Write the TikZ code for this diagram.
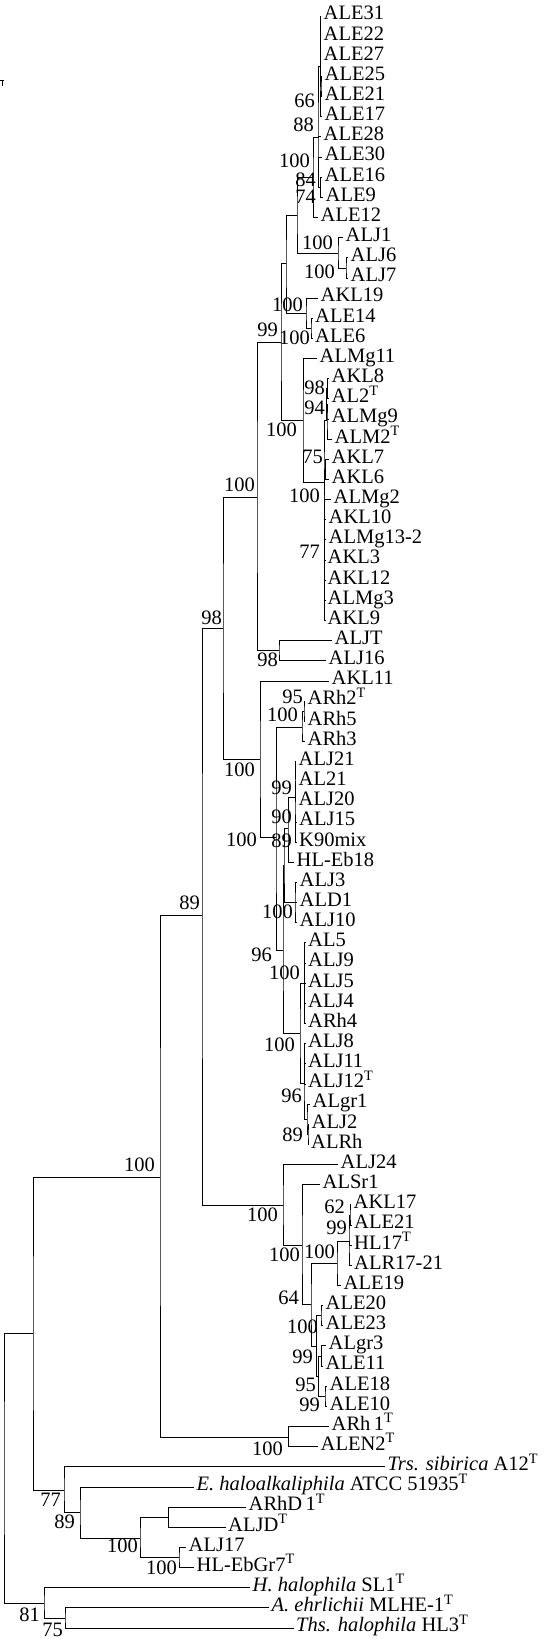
\documentclass[tikz,border=0pt]{standalone}
\usepackage{fontspec}
\setmainfont{Liberation Serif}
\usepackage{tikz}
\usetikzlibrary{positioning}
\tikzset{
  leaf/.style={anchor=west, inner xsep=2.5pt, inner ysep=0pt, text height=14pt, text depth=6.4pt, font=\fontsize{20.5}{24}\selectfont},
  boot/.style={anchor=east, inner sep=0pt, font=\fontsize{20.5}{24}\selectfont},
  branch/.style={line width=0.9pt}
}

\begin{document}
\begin{tikzpicture}[x=1pt, y=-1pt]
\useasboundingbox (0,0) rectangle (547,1639);

% remnant of the scale bar
\draw[branch] (0,80.5) -- (3.5,80.5);
\draw[branch] (2.5,80.5) -- (2.5,85.5);

% leaves: ALE group
\node[leaf] (ale31) at (321,16) {ALE31};
\node[leaf] (ale22) at (321,36.2) {ALE22};
\node[leaf] (ale27) at (321,56.3) {ALE27};
\node[leaf] (ale25) at (322,76.5) {ALE25};
\node[leaf] (ale21a) at (322,96.6) {ALE21};
\node[leaf] (ale17) at (322,116.8) {ALE17};
\node[leaf] (ale28) at (321,136.9) {ALE28};
\node[leaf] (ale30) at (322,157.1) {ALE30};
\node[leaf] (ale16) at (322,177.2) {ALE16};
\node[leaf] (ale9) at (323,197.4) {ALE9};
\node[leaf] (ale12) at (318,217.5) {ALE12};
\node[leaf] (alj1) at (343,237.7) {ALJ1};
\node[leaf] (alj6) at (348,257.8) {ALJ6};
\node[leaf] (alj7) at (348,278) {ALJ7};
\node[leaf] (akl19) at (318,298.1) {AKL19};
\node[leaf] (ale14) at (312.5,318.3) {ALE14};
\node[leaf] (ale6) at (312.5,338.4) {ALE6};
% leaves: ALMg / AKL group
\node[leaf] (almg11) at (317,358.6) {ALMg11};
\node[leaf] (akl8) at (329,378.7) {AKL8};
\node[leaf] (al2) at (329,398.9) {AL2\textsuperscript{T}};
\node[leaf] (almg9) at (329,419) {ALMg9};
\node[leaf] (alm2) at (332,439.2) {ALM2\textsuperscript{T}};
\node[leaf] (akl7) at (329,459.3) {AKL7};
\node[leaf] (akl6) at (329,479.5) {AKL6};
\node[leaf] (almg2) at (331,499.6) {ALMg2};
\node[leaf] (akl10) at (326,519.8) {AKL10};
\node[leaf] (almg132) at (326,539.9) {ALMg13-2};
\node[leaf] (akl3) at (325,560.1) {AKL3};
\node[leaf] (akl12) at (325,580.2) {AKL12};
\node[leaf] (almg3) at (325,600.4) {ALMg3};
\node[leaf] (akl9) at (325,620.5) {AKL9};
\node[leaf] (aljt) at (332,640.7) {ALJT};
\node[leaf] (alj16) at (326,660.8) {ALJ16};
% leaves: ARh / ALJ group
\node[leaf] (akl11) at (329,681) {AKL11};
\node[leaf] (arh2) at (305,701.1) {ARh2\textsuperscript{T}};
\node[leaf] (arh5) at (305,721.3) {ARh5};
\node[leaf] (arh3) at (305,741.4) {ARh3};
\node[leaf] (alj21) at (296,761.6) {ALJ21};
\node[leaf] (al21) at (296,781.7) {AL21};
\node[leaf] (alj20) at (296,801.9) {ALJ20};
\node[leaf] (alj15) at (296.5,822) {ALJ15};
\node[leaf] (k90mix) at (296.5,842.2) {K90mix};
\node[leaf] (hleb18) at (294,862.3) {HL-Eb18};
\node[leaf] (alj3) at (297,882.5) {ALJ3};
\node[leaf] (ald1) at (297,902.6) {ALD1};
\node[leaf] (alj10) at (297,922.8) {ALJ10};
\node[leaf] (al5) at (305.5,942.9) {AL5};
\node[leaf] (alj9) at (305.5,963.1) {ALJ9};
\node[leaf] (alj5) at (305.5,983.2) {ALJ5};
\node[leaf] (alj4) at (305.5,1003.4) {ALJ4};
\node[leaf] (arh4) at (305.5,1023.5) {ARh4};
\node[leaf] (alj8) at (305.5,1043.7) {ALJ8};
\node[leaf] (alj11) at (305.5,1063.8) {ALJ11};
\node[leaf] (alj12) at (305.5,1084) {ALJ12\textsuperscript{T}};
\node[leaf] (algr1) at (310,1104.1) {ALgr1};
\node[leaf] (alj2) at (309,1124.3) {ALJ2};
\node[leaf] (alrh) at (308.5,1144.4) {ALRh};
% leaves: lower ALE group
\node[leaf] (alj24) at (338,1164.6) {ALJ24};
\node[leaf] (alsr1) at (320,1184.7) {ALSr1};
\node[leaf] (akl17) at (351,1204.9) {AKL17};
\node[leaf] (ale21b) at (351.5,1225) {ALE21};
\node[leaf] (hl17) at (351.5,1245.2) {HL17\textsuperscript{T}};
\node[leaf] (alr1721) at (351.5,1265.3) {ALR17-21};
\node[leaf] (ale19) at (341,1285.5) {ALE19};
\node[leaf] (ale20) at (323,1305.6) {ALE20};
\node[leaf] (ale23) at (323,1325.8) {ALE23};
\node[leaf] (algr3) at (326,1345.9) {ALgr3};
\node[leaf] (ale11) at (323,1366.1) {ALE11};
\node[leaf] (ale18) at (327,1386.2) {ALE18};
\node[leaf] (ale10) at (327,1406.4) {ALE10};
\node[leaf] (arh1) at (329,1426.5) {ARh\,1\textsuperscript{T}};
\node[leaf] (alen2) at (318,1446.7) {ALEN2\textsuperscript{T}};
% leaves: reference strains
\node[leaf] (trs) at (385,1466.8) {\textit{Trs. sibirica} A12\textsuperscript{T}};
\node[leaf] (ehalo) at (194,1487) {\textit{E. haloalkaliphila} ATCC 51935\textsuperscript{T}};
\node[leaf] (arhd1) at (246,1507.1) {ARhD\,1\textsuperscript{T}};
\node[leaf] (aljd) at (225.5,1527.3) {ALJD\textsuperscript{T}};
\node[leaf] (alj17) at (186,1547.4) {ALJ17};
\node[leaf] (hlebgr7) at (194,1567.6) {HL-EbGr7\textsuperscript{T}};
\node[leaf] (hhalo) at (250,1587.7) {\textit{H. halophila} SL1\textsuperscript{T}};
\node[leaf] (aehr) at (269,1607.9) {\textit{A. ehrlichii} MLHE-1\textsuperscript{T}};
\node[leaf] (thshalo) at (293.5,1628) {\textit{Ths. halophila} HL3\textsuperscript{T}};

% inner nodes
\coordinate (root) at (4,1468);
\coordinate (nA) at (33,1333);
\coordinate (nM) at (160,1177);
\coordinate (nArh) at (288.5,1437);
\coordinate (n8) at (202,915);
\coordinate (n7) at (223,628);
\coordinate (n6) at (257,497);
\coordinate (nAljt) at (279,650);
\coordinate (n3) at (281,342);
\coordinate (n2) at (286,263);
\coordinate (n1) at (297,215);
\coordinate (nAlec) at (313,177);
\coordinate (nAlea) at (318,137);
\coordinate (nAleb) at (320,66);
\coordinate (nAlee) at (321,86.5);
\coordinate (nAled) at (318.5,177);
\coordinate (nAlef) at (320.5,187.3);
\coordinate (nAljc) at (338,253);
\coordinate (nAlj67) at (346,268);
\coordinate (nAkc) at (306,313);
\coordinate (nAec) at (311,328.3);
\coordinate (n4) at (303,420);
\coordinate (n5) at (324,482);
\coordinate (nC1) at (327,420);
\coordinate (nC1b) at (326.5,404);
\coordinate (nC1a) at (327.5,388.8);
\coordinate (nCrest) at (324,520);
\coordinate (nC2) at (325.5,469.4);
\coordinate (nC77) at (324.5,570);
\coordinate (n12) at (260,759);
\coordinate (n13) at (276,837);
\coordinate (nArhc) at (302,727);
\coordinate (nArhi) at (304,711.2);
\coordinate (n14) at (283,950);
\coordinate (n14a) at (284,865);
\coordinate (nV) at (288,828);
\coordinate (nV1) at (295,797);
\coordinate (nV2) at (295.5,832);
\coordinate (nAlj3c) at (295,902.6);
\coordinate (nW) at (300,1033);
\coordinate (nW1) at (304,983.2);
\coordinate (nW2) at (304,1083);
\coordinate (nW3) at (307,1119);
\coordinate (nW4) at (308,1134.3);
\coordinate (n9) at (283,1205);
\coordinate (n10) at (302,1245);
\coordinate (n11) at (311,1304);
\coordinate (nQ) at (337,1263);
\coordinate (nP) at (349,1241);
\coordinate (nP1) at (350,1215);
\coordinate (nR) at (316.5,1346);
\coordinate (nRc) at (321,1315.7);
\coordinate (nS) at (318.5,1376);
\coordinate (nS1) at (321.5,1356);
\coordinate (nT) at (325,1396.3);
\coordinate (nB) at (64,1490);
\coordinate (nBc) at (80,1512);
\coordinate (nBd) at (140,1538);
\coordinate (nBe) at (168.5,1517.2);
\coordinate (nBf) at (179,1557.5);
\coordinate (nC) at (44,1603);
\coordinate (nCd) at (65,1618);

% root and outgroups
\draw[branch] (nA) -| (root) |- (nC);
\draw[branch] (hhalo.west) -| (nC) |- (nCd);
\draw[branch] (aehr.west) -| (nCd) |- (thshalo.west);
\draw[branch] (nM) -| (nA) |- (nB);
\draw[branch] (trs.west) -| (nB) |- (nBc);
\draw[branch] (ehalo.west) -| (nBc) |- (nBd);
\draw[branch] (nBe) -| (nBd) |- (nBf);
\draw[branch] (arhd1.west) -| (nBe) |- (aljd.west);
\draw[branch] (alj17.west) -| (nBf) |- (hlebgr7.west);
\draw[branch] (n8) -| (nM) |- (nArh);
\draw[branch] (arh1.west) -| (nArh) |- (alen2.west);

% upper part
\draw[branch] (n7) -| (n8) |- (n9);
\draw[branch] (n6) -| (n7) |- (n12);
\draw[branch] (n3) -| (n6) |- (nAljt);
\draw[branch] (aljt.west) -| (nAljt) |- (alj16.west);
\draw[branch] (n2) -| (n3) |- (n4);
\draw[branch] (n1) -| (n2) |- (nAkc);
\draw[branch] (nAlec) -| (n1) |- (nAljc);
\draw[branch] (nAlea) -| (nAlec) |- (ale12.west);
\draw[branch] (nAleb) -| (nAlea) |- (nAled);
\draw[branch] (nAlea) |- (ale28.west);
\draw[branch] (ale31.west) -| (nAleb) |- (ale17.west);
\draw[branch] (nAleb) |- (ale22.west) (nAleb) |- (ale27.west) (nAleb) |- (nAlee);
\draw[branch] (ale25.west) -| (nAlee) |- (ale21a.west);
\draw[branch] (ale30.west) -| (nAled) |- (nAlef);
\draw[branch] (ale16.west) -| (nAlef) |- (ale9.west);
\draw[branch] (alj1.west) -| (nAljc) |- (nAlj67);
\draw[branch] (alj6.west) -| (nAlj67) |- (alj7.west);
\draw[branch] (akl19.west) -| (nAkc) |- (nAec);
\draw[branch] (ale14.west) -| (nAec) |- (ale6.west);
\draw[branch] (almg11.west) -| (n4) |- (n5);
\draw[branch] (nC1) -| (n5) |- (nCrest);
\draw[branch] (nC1b) -| (nC1) |- (alm2.west);
\draw[branch] (nC1a) -| (nC1b) |- (almg9.west);
\draw[branch] (akl8.west) -| (nC1a) |- (al2.west);
\draw[branch] (nC2) -| (nCrest) |- (nC77);
\draw[branch] (nCrest) |- (almg2.west);
\draw[branch] (akl7.west) -| (nC2) |- (akl6.west);
\draw[branch] (akl10.west) -| (nC77) |- (akl9.west);
\draw[branch] (nC77) |- (almg132.west) (nC77) |- (akl3.west) (nC77) |- (akl12.west) (nC77) |- (almg3.west);

% middle part
\draw[branch] (akl11.west) -| (n12) |- (n13);
\draw[branch] (nArhc) -| (n13) |- (n14);
\draw[branch] (nArhi) -| (nArhc) |- (arh3.west);
\draw[branch] (arh2.west) -| (nArhi) |- (arh5.west);
\draw[branch] (n14a) -| (n14) |- (nW);
\draw[branch] (nV) -| (n14a) |- (nAlj3c);
\draw[branch] (nV1) -| (nV) |- (hleb18.west);
\draw[branch] (alj21.west) -| (nV1) |- (nV2);
\draw[branch] (nV1) |- (al21.west) (nV1) |- (alj20.west);
\draw[branch] (alj15.west) -| (nV2) |- (k90mix.west);
\draw[branch] (alj3.west) -| (nAlj3c) |- (alj10.west);
\draw[branch] (nAlj3c) |- (ald1.west);
\draw[branch] (nW1) -| (nW) |- (nW2);
\draw[branch] (al5.west) -| (nW1) |- (arh4.west);
\draw[branch] (nW1) |- (alj9.west) (nW1) |- (alj5.west) (nW1) |- (alj4.west);
\draw[branch] (alj8.west) -| (nW2) |- (nW3);
\draw[branch] (nW2) |- (alj11.west) (nW2) |- (alj12.west);
\draw[branch] (algr1.west) -| (nW3) |- (nW4);
\draw[branch] (alj2.west) -| (nW4) |- (alrh.west);

% lower part
\draw[branch] (alj24.west) -| (n9) |- (n10);
\draw[branch] (alsr1.west) -| (n10) |- (n11);
\draw[branch] (nQ) -| (n11) |- (nR);
\draw[branch] (nP) -| (nQ) |- (ale19.west);
\draw[branch] (nP1) -| (nP) |- (alr1721.west);
\draw[branch] (nP) |- (hl17.west);
\draw[branch] (akl17.west) -| (nP1) |- (ale21b.west);
\draw[branch] (nRc) -| (nR) |- (nS);
\draw[branch] (ale20.west) -| (nRc) |- (ale23.west);
\draw[branch] (nS1) -| (nS) |- (nT);
\draw[branch] (algr3.west) -| (nS1) |- (ale11.west);
\draw[branch] (ale18.west) -| (nT) |- (ale10.west);

% bootstrap values
\node[boot] (b66) at (315,101) {66};
\node[boot] (b88) at (314,125) {88};
\node[boot] (bAlec) at (310,160.5) {100};
\node[boot] (b84) at (316,180) {84};
\node[boot] (b74) at (316,196.5) {74};
\node[boot] (bAljc) at (333,243) {100};
\node[boot] (bAlj67) at (335,272) {100};
\node[boot] (bAkc) at (303,305) {100};
\node[boot] (bAec) at (310,338) {100};
\node[boot] (b3) at (278,330) {99};
\node[boot] (b98a) at (325,388) {98};
\node[boot] (b94) at (325,408) {94};
\node[boot] (b4) at (297,430) {100};
\node[boot] (b75a) at (323,457) {75};
\node[boot] (b6) at (255,485) {100};
\node[boot] (bCrest) at (320,496) {100};
\node[boot] (b77a) at (320,552) {77};
\node[boot] (b7) at (222,618) {98};
\node[boot] (bAljt) at (278,660) {98};
\node[boot] (b95a) at (303,697) {95};
\node[boot] (bArhc) at (298,715) {100};
\node[boot] (b12) at (255,770) {100};
\node[boot] (b99a) at (292,788) {99};
\node[boot] (b90) at (292,817) {90};
\node[boot] (b13) at (257,840) {100};
\node[boot] (b89a) at (292,841) {89};
\node[boot] (b8) at (200,903) {89};
\node[boot] (bAlj3c) at (293,912) {100};
\node[boot] (b14) at (272,955) {96};
\node[boot] (bW1) at (300,973) {100};
\node[boot] (bW) at (295,1045) {100};
\node[boot] (bW3) at (302,1096) {96};
\node[boot] (bW4) at (303,1135) {89};
\node[boot] (bM) at (155,1165) {100};
\node[boot] (b9) at (278,1215) {100};
\node[boot] (b62) at (345,1207) {62};
\node[boot] (b99b) at (347,1228) {99};
\node[boot] (bQ) at (335,1252) {100};
\node[boot] (b10) at (300,1255) {100};
\node[boot] (b64) at (299,1298) {64};
\node[boot] (bR) at (318,1327) {100};
\node[boot] (b99c) at (313,1357) {99};
\node[boot] (b95b) at (316,1385) {95};
\node[boot] (b99d) at (320,1405) {99};
\node[boot] (bArh) at (283,1449) {100};
\node[boot] (b77b) at (61,1500) {77};
\node[boot] (b89b) at (75,1522) {89};
\node[boot] (bBd) at (138,1546) {100};
\node[boot] (bBf) at (177,1568) {100};
\node[boot] (b81) at (40,1615) {81};
\node[boot] (b75b) at (63,1630) {75};
\end{tikzpicture}
\end{document}
